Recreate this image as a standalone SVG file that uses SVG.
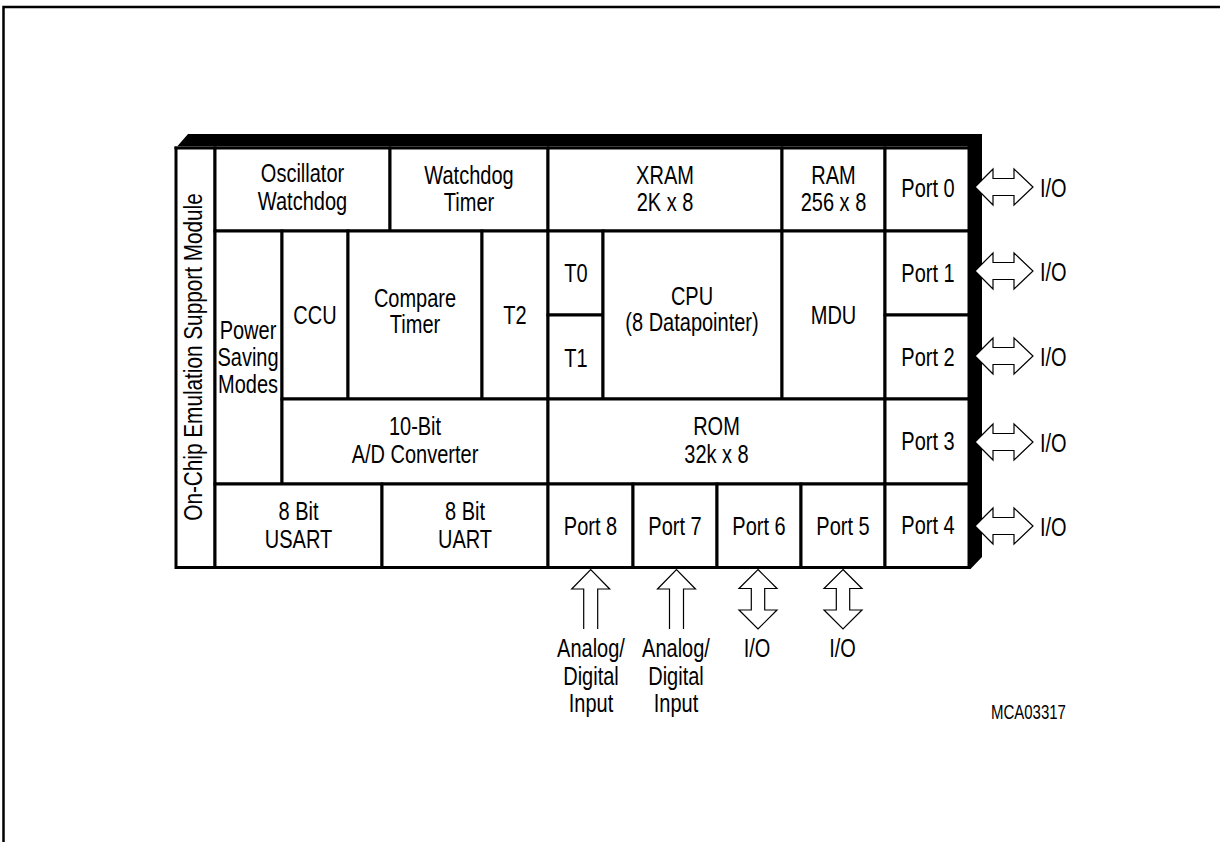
<svg xmlns="http://www.w3.org/2000/svg" width="1225" height="842" viewBox="0 0 1225 842">
<style>
.c{fill:#fff;stroke:#000;stroke-width:3}
.t{font-family:"Liberation Sans",Arial,sans-serif;font-size:25px;fill:#000;text-anchor:middle}
.s{text-anchor:start}
.a{fill:#fff;stroke:#000;stroke-width:1.2;stroke-linejoin:miter}
.o{fill:none;stroke:#000;stroke-width:1.2}
</style>
<rect width="1225" height="842" fill="#fff"/>
<path d="M3.5,842 V7 H1220" fill="none" stroke="#000" stroke-width="2.5"/>
<g id="chip">
<path d="M174.5,149.5 L188,134 H982 V557 L970.5,569 H967.5 V146.5 H174.5 Z" fill="#000"/>
</g>
<g id="emu"><rect class="c" x="176" y="148" width="39" height="419.5"/>
<text class="t" transform="translate(202,357) rotate(-90) scale(0.83,1)">On-Chip Emulation Support Module</text></g>
<g id="osc"><rect class="c" x="215" y="148" width="175" height="83"/>
<text class="t" transform="translate(302.5,182) scale(0.8,1)">Oscillator<tspan x="0" dy="28">Watchdog</tspan></text></g>
<g id="wdt"><rect class="c" x="390" y="148" width="158" height="83"/>
<text class="t" transform="translate(469,184) scale(0.8,1)">Watchdog<tspan x="0" dy="27.5">Timer</tspan></text></g>
<g id="xram"><rect class="c" x="548" y="148" width="234" height="83"/>
<text class="t" transform="translate(665,184) scale(0.8,1)">XRAM<tspan x="0" dy="27.5">2K x 8</tspan></text></g>
<g id="ram"><rect class="c" x="782" y="148" width="103" height="83"/>
<text class="t" transform="translate(833.5,184) scale(0.8,1)">RAM<tspan x="0" dy="27.5">256 x 8</tspan></text></g>
<g id="p0"><rect class="c" x="885" y="148" width="84" height="83"/>
<text class="t" transform="translate(928,197) scale(0.8,1)">Port 0</text></g>
<g id="psm"><rect class="c" x="215" y="231" width="67" height="253"/>
<text class="t" transform="translate(248,338.5) scale(0.8,1)">Power<tspan x="0" dy="27.5">Saving</tspan><tspan x="0" dy="27">Modes</tspan></text></g>
<g id="ccu"><rect class="c" x="282" y="231" width="66" height="168"/>
<text class="t" transform="translate(315,324) scale(0.8,1)">CCU</text></g>
<g id="cmp"><rect class="c" x="348" y="231" width="134" height="168"/>
<text class="t" transform="translate(415,307) scale(0.8,1)">Compare<tspan x="0" dy="26.5">Timer</tspan></text></g>
<g id="t2"><rect class="c" x="482" y="231" width="66" height="168"/>
<text class="t" transform="translate(515,324) scale(0.8,1)">T2</text></g>
<g id="t0"><rect class="c" x="548" y="231" width="55" height="84"/>
<text class="t" transform="translate(576,282) scale(0.8,1)">T0</text></g>
<g id="t1"><rect class="c" x="548" y="315" width="55" height="84"/>
<text class="t" transform="translate(576,367) scale(0.8,1)">T1</text></g>
<g id="cpu"><rect class="c" x="603" y="231" width="179" height="168"/>
<text class="t" transform="translate(692,305) scale(0.8,1)">CPU<tspan x="0" dy="26.5">(8 Datapointer)</tspan></text></g>
<g id="mdu"><rect class="c" x="782" y="231" width="103" height="168"/>
<text class="t" transform="translate(833.5,323.5) scale(0.8,1)">MDU</text></g>
<g id="p1"><rect class="c" x="885" y="231" width="84" height="84"/>
<text class="t" transform="translate(928,281.5) scale(0.8,1)">Port 1</text></g>
<g id="p2"><rect class="c" x="885" y="315" width="84" height="84"/>
<text class="t" transform="translate(928,365.5) scale(0.8,1)">Port 2</text></g>
<g id="adc"><rect class="c" x="282" y="399" width="266" height="85"/>
<text class="t" transform="translate(415,435) scale(0.8,1)">10-Bit<tspan x="0" dy="28.5">A/D Converter</tspan></text></g>
<g id="rom"><rect class="c" x="548" y="399" width="337" height="85"/>
<text class="t" transform="translate(716.5,435) scale(0.8,1)">ROM<tspan x="0" dy="28.5">32k x 8</tspan></text></g>
<g id="p3"><rect class="c" x="885" y="399" width="84" height="85"/>
<text class="t" transform="translate(928,450) scale(0.8,1)">Port 3</text></g>
<g id="usart"><rect class="c" x="215" y="484" width="167" height="83.5"/>
<text class="t" transform="translate(298.5,520) scale(0.8,1)">8 Bit<tspan x="0" dy="28.5">USART</tspan></text></g>
<g id="uart"><rect class="c" x="382" y="484" width="166" height="83.5"/>
<text class="t" transform="translate(465,520) scale(0.8,1)">8 Bit<tspan x="0" dy="28.5">UART</tspan></text></g>
<g id="p8"><rect class="c" x="548" y="484" width="85" height="83.5"/>
<text class="t" transform="translate(590.5,535) scale(0.8,1)">Port 8</text></g>
<g id="p7"><rect class="c" x="633" y="484" width="84" height="83.5"/>
<text class="t" transform="translate(675,535) scale(0.8,1)">Port 7</text></g>
<g id="p6"><rect class="c" x="717" y="484" width="84" height="83.5"/>
<text class="t" transform="translate(759,535) scale(0.8,1)">Port 6</text></g>
<g id="p5"><rect class="c" x="801" y="484" width="84" height="83.5"/>
<text class="t" transform="translate(843,535) scale(0.8,1)">Port 5</text></g>
<g id="p4"><rect class="c" x="885" y="484" width="84" height="83.5"/>
<text class="t" transform="translate(928,534) scale(0.8,1)">Port 4</text></g>
<g id="connectors">
<path class="a" d="M975,187 L993,169 V178.5 H1014 V169 L1033,187 L1014,205 V195.5 H993 V205 Z"/>
<path class="a" d="M975,271 L993,253 V262.5 H1014 V253 L1033,271 L1014,289 V279.5 H993 V289 Z"/>
<path class="a" d="M975,356 L993,338 V347.5 H1014 V338 L1033,356 L1014,374 V364.5 H993 V374 Z"/>
<path class="a" d="M975,442 L993,424 V433.5 H1014 V424 L1033,442 L1014,460 V450.5 H993 V460 Z"/>
<path class="a" d="M975,526 L993,508 V517.5 H1014 V508 L1033,526 L1014,544 V534.5 H993 V544 Z"/>
<path class="o" d="M583.7,629 V589 H571.7 L590.7,569.5 L609.7,589 H597.7 V629"/>
<path class="o" d="M669.5,629 V589 H657.5 L676.5,569.5 L695.5,589 H683.5 V629"/>
<path class="a" d="M758,569.5 L777,588.5 H764.7 V610 H777 L758,629 L739,610 H751.3 V588.5 H739 Z"/>
<path class="a" d="M843,569.5 L862,588.5 H849.7 V610 H862 L843,629 L824,610 H836.3 V588.5 H824 Z"/>
</g>
<g id="labels">
<text class="t s" transform="translate(1040,197) scale(0.8,1)">I/O</text>
<text class="t s" transform="translate(1040,281) scale(0.8,1)">I/O</text>
<text class="t s" transform="translate(1040,366) scale(0.8,1)">I/O</text>
<text class="t s" transform="translate(1040,452) scale(0.8,1)">I/O</text>
<text class="t s" transform="translate(1040,536) scale(0.8,1)">I/O</text>
<text class="t" transform="translate(591,657) scale(0.8,1)">Analog/<tspan x="0" dy="28">Digital</tspan><tspan x="0" dy="27">Input</tspan></text>
<text class="t" transform="translate(676,657) scale(0.8,1)">Analog/<tspan x="0" dy="28">Digital</tspan><tspan x="0" dy="27">Input</tspan></text>
<text class="t" transform="translate(757,657) scale(0.8,1)">I/O</text>
<text class="t" transform="translate(842.5,657) scale(0.8,1)">I/O</text>
<text class="t s" style="font-size:20px" transform="translate(991,719) scale(0.75,1)">MCA03317</text>
</g>
</svg>
